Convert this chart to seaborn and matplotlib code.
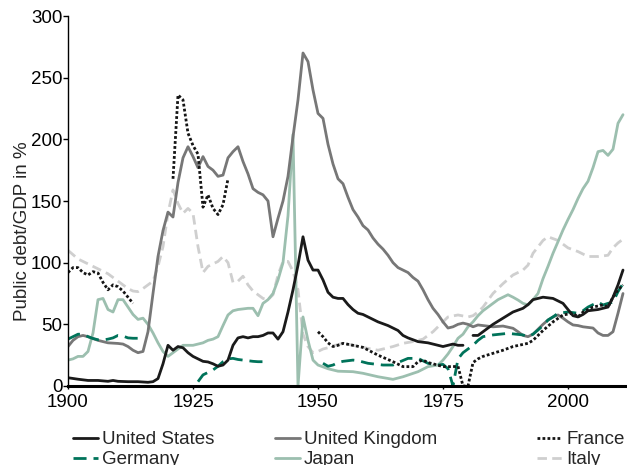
import numpy as np
import pandas as pd
import matplotlib
matplotlib.use("Agg")
import matplotlib.pyplot as plt
from matplotlib.lines import Line2D
import seaborn as sns

nan = np.nan

# Public debt / GDP in % (nan = gap in series)
US_YEARS = [1900, 1902, 1904, 1906, 1908, 1909, 1910, 1912, 1914, 1916,
            1917, 1918, 1919, 1920, 1921, 1922, 1923, 1924, 1925, 1926,
            1927, 1928, 1929, 1930, 1931, 1932, 1933, 1934, 1935, 1936,
            1937, 1938, 1939, 1940, 1941, 1942, 1943, 1944, 1945, 1946,
            1947, 1948, 1949, 1950, 1951, 1952, 1953, 1954, 1955, 1956,
            1957, 1958, 1959, 1960, 1962, 1964, 1966, 1967, 1968, 1970,
            1972, 1974, 1975, 1976, 1977, 1978, 1979, 1980, 1981, 1982,
            1983, 1984, 1985, 1987, 1989, 1991, 1992, 1993, 1995, 1997,
            1999, 2000, 2001, 2002, 2003, 2004, 2006, 2008, 2009, 2010,
            2011]
US_DEBT = [6.7, 5.5, 4.5, 4.5, 3.8, 4.5, 3.8, 3.5, 3.5, 3,
           3.5, 6, 18, 33, 29, 32, 31, 27, 24, 22,
           20, 19.5, 18, 16, 17, 21, 33, 39, 40, 39,
           40, 40, 41, 43, 43, 38, 44, 60, 78, 98,
           121, 102, 94, 94, 86, 76, 72, 71, 71, 66,
           62, 59, 58, 56, 52, 49, 45, 41, 39, 36,
           35, 33, 32, 33, 34, 33, 33, nan, 41, 41,
           44, 47, 50, 55, 60, 63, 66, 70, 72, 71,
           67, 62, 57, 56, 58, 61, 62, 64, 72, 82,
           94]

UK_YEARS = [1900, 1901, 1902, 1903, 1904, 1906, 1908, 1910, 1911, 1912,
            1913, 1914, 1915, 1916, 1917, 1918, 1919, 1920, 1921, 1922,
            1923, 1924, 1925, 1926, 1927, 1928, 1929, 1930, 1931, 1932,
            1933, 1934, 1935, 1936, 1937, 1938, 1939, 1940, 1941, 1942,
            1943, 1944, 1945, 1946, 1947, 1948, 1949, 1950, 1951, 1952,
            1953, 1954, 1955, 1956, 1957, 1958, 1959, 1960, 1961, 1962,
            1963, 1964, 1965, 1966, 1967, 1968, 1969, 1970, 1971, 1972,
            1973, 1974, 1975, 1976, 1977, 1978, 1979, 1980, 1981, 1982,
            1983, 1985, 1987, 1989, 1990, 1991, 1992, 1993, 1994, 1995,
            1996, 1997, 1998, 1999, 2000, 2001, 2002, 2003, 2004, 2005,
            2006, 2007, 2008, 2009, 2010, 2011]
UK_DEBT = [32, 37, 40, 41, 40, 37, 35, 34.5, 34, 32,
           29, 27, 28, 44, 75, 105, 126, 141, 137, 165,
           185, 194, 186, 177, 186, 178, 175, 170, 171, 185,
           190, 194, 182, 172, 160, 157, 155, 150, 121, 136,
           150, 170, 202, 232, 270, 263, 240, 221, 217, 196,
           180, 168, 164, 153, 143, 137, 130, 126.5, 120, 115,
           111, 106, 100, 96, 94, 92, 88, 85, 78, 70,
           63, 58, 52, 47, 48, 50, 51, 50, 48, 49.5,
           49, 48, 48.6, 46.8, 44, 41, 40, 42, 46, 50,
           53.5, 56, 57.6, 55, 52, 49.5, 49, 48, 47.5, 47,
           43, 41, 41, 44, 59, 75]

FR_YEARS = [1900, 1901, 1902, 1903, 1904, 1905, 1906, 1907, 1908, 1909,
            1910, 1911, 1912, 1913, 1914,
            1921, 1922, 1923, 1924, 1925, 1926, 1927, 1928, 1929, 1930,
            1931, 1932, 1933,
            1950, 1951, 1952, 1953, 1954, 1955, 1957, 1959, 1962, 1965,
            1967, 1969, 1970, 1971, 1972, 1973, 1975, 1977, 1978, 1979,
            1980, 1981, 1982, 1983, 1985, 1987, 1989, 1992, 1993, 1994,
            1995, 1997, 1999, 2001, 2002, 2003, 2005, 2007, 2008, 2009,
            2010, 2011]
FR_DEBT = [92, 96, 96, 92, 90, 92.7, 91.6, 84, 78, 82,
           80.5, 77, 72, 67, nan,
           168, 236, 232, 205, 195, 188, 145, 155, 144, 139,
           147, 168, nan,
           44, 40, 35, 32, 33, 34.6, 33, 31.3, 25, 19.7,
           15.7, 15.7, 19.7, 21, 19, 18, 15.7, 15.7, 16, 0,
           0, 19, 22, 24, 26.5, 29, 32, 34.6, 37, 41,
           45, 52, 57.6, 59, 56, 60, 64, 65.7, 64, 72,
           78, 82]

DE_YEARS = [1900, 1901, 1902, 1903, 1904, 1905, 1906, 1907, 1908, 1909,
            1910, 1911, 1912, 1913, 1914, 1915,
            1926, 1927, 1928, 1929, 1930, 1931, 1932, 1933, 1934, 1935,
            1936, 1937, 1938, 1939, 1940,
            1951, 1952, 1953, 1954, 1955, 1957, 1958, 1960, 1963, 1965,
            1966, 1968, 1970, 1972, 1974, 1975, 1976, 1977, 1978, 1979,
            1980, 1981, 1982, 1983, 1985, 1988, 1991, 1992, 1993, 1994,
            1995, 1996, 1997, 1998, 2000, 2002, 2003, 2004, 2006, 2007,
            2008, 2009, 2010, 2011]
DE_DEBT = [38, 40, 42, 42, 40, 38.5, 37.5, 37.3, 38, 39,
           41, 40.5, 39, 38.7, 38.7, nan,
           3.5, 9, 11, 13, 16, 19.7, 22, 22.4, 21.5, 21,
           20.5, 20, 19.7, 19.7, nan,
           18.4, 16, 17, 19, 20, 21, 20.5, 18.4, 17, 17,
           19, 22.4, 22.4, 18.4, 17, 17.5, 14, 0, 22, 27,
           30, 33, 37, 40, 41.4, 42.7, 41.4, 40, 42, 45.4,
           49, 53.5, 56, 59, 60, 59, 61, 64, 68, 65.7,
           67, 68, 76.5, 83]

JP_YEARS = [1900, 1901, 1902, 1903, 1904, 1905, 1906, 1907, 1908, 1909,
            1910, 1911, 1912, 1913, 1914, 1915, 1916, 1917, 1918, 1919,
            1920, 1921, 1922, 1923, 1924, 1925, 1926, 1927, 1928, 1929,
            1930, 1931, 1932, 1933, 1934, 1935, 1936, 1937, 1938, 1939,
            1940, 1941, 1942, 1943, 1944, 1945, 1946, 1947, 1948, 1949,
            1950, 1951, 1952, 1953, 1954, 1957, 1959, 1962, 1965, 1967,
            1970, 1972, 1974, 1975, 1976, 1977, 1978, 1979, 1980, 1981,
            1982, 1983, 1984, 1985, 1986, 1987, 1988, 1989, 1990, 1991,
            1992, 1993, 1994, 1995, 1996, 1997, 1998, 1999, 2000, 2001,
            2002, 2003, 2004, 2005, 2006, 2007, 2008, 2009, 2010, 2011]
JP_DEBT = [21, 22, 24, 24, 28, 43, 70, 71, 62, 60,
           70, 70, 64, 58, 54, 55, 50, 43, 35, 28,
           24, 27, 30, 33, 33, 33, 34, 35, 37, 38,
           40, 49, 57.6, 61, 62, 62.5, 63, 63, 57, 67,
           70, 75, 86, 100, 138, 204, 0, 56, 37, 21,
           17, 15.5, 14, 13, 12, 11.6, 10.3, 7.5, 5.4, 7.5,
           11.6, 15.7, 17, 21, 26, 32, 38.7, 42, 48, 52,
           57, 61, 64, 67, 70, 72, 74, 72, 69.7, 67,
           65.7, 70, 75, 87, 97, 107.6, 117, 126.5, 135, 143,
           152, 160, 166, 177, 190, 191, 187, 192, 213, 220]

IT_YEARS = [1900, 1902, 1905, 1908, 1910, 1912, 1913, 1914, 1915, 1916,
            1917, 1918, 1919, 1920, 1921, 1922, 1923, 1924, 1925, 1926,
            1927, 1928, 1929, 1930, 1931, 1932, 1933, 1934, 1935, 1936,
            1937, 1938, 1939, 1940, 1941, 1942, 1943, 1944, 1945, 1946,
            1947, 1948, 1949, 1950, 1951, 1952, 1953, 1955, 1957, 1960,
            1962, 1965, 1967, 1969, 1971, 1973, 1975, 1976, 1978, 1980,
            1981, 1982, 1983, 1985, 1987, 1989, 1991, 1992, 1993, 1995,
            1996, 1998, 2000, 2002, 2004, 2006, 2008, 2009, 2010, 2011]
IT_DEBT = [110, 103, 97, 91, 85, 79, 77, 76.5, 79, 82,
           85, 97, 113, 140, 159, 148, 140, 144, 140, 113,
           92, 97, 99, 101, 105, 100, 84, 85, 89, 82,
           77, 74, 71, 70, 74, 90, 101, 101, 93, 78,
           42, 32, 27, 28, 30, 31, 32.5, 34.6, 33, 30.5,
           29, 32, 34.6, 36, 38, 44, 52, 56, 57.6, 56,
           57, 60, 64, 75, 83, 90, 94, 98, 107.6, 118,
           121, 118, 112, 109, 105, 105, 106, 112, 116, 119]

SERIES = {
    "United States": (US_YEARS, US_DEBT),
    "United Kingdom": (UK_YEARS, UK_DEBT),
    "France": (FR_YEARS, FR_DEBT),
    "Germany": (DE_YEARS, DE_DEBT),
    "Japan": (JP_YEARS, JP_DEBT),
    "Italy": (IT_YEARS, IT_DEBT),
}
COLORS = {
    "United States": "#1a1a1a",
    "United Kingdom": "#777777",
    "France": "#151515",
    "Germany": "#00735a",
    "Japan": "#9cbfaf",
    "Italy": "#cfcfcf",
}
DASHES = {
    "United States": "",
    "United Kingdom": "",
    "France": (1, 0.8),
    "Germany": (4.7, 2.5),
    "Japan": "",
    "Italy": (3.4, 1.9),
}
LEGEND_COLUMNS = [["United States", "Germany"],
                  ["United Kingdom", "Japan"],
                  ["France", "Italy"]]

# long-form frame; a new segment starts after every gap
rows = []
for country, (years, debt) in SERIES.items():
    assert len(years) == len(debt), country
    seg = 0
    for yr, v in zip(years, debt):
        if np.isnan(v):
            seg += 1
            continue
        rows.append({"year": yr, "debt": v, "country": country, "segment": seg})
df = pd.DataFrame(rows)

sns.set_style("ticks")
plt.rcParams["font.family"] = ["Liberation Sans", "DejaVu Sans"]
FS = 13.5

fig = plt.figure(figsize=(6.27, 4.65), dpi=100)
ax = fig.add_axes([68 / 627, 1 - 386 / 465, 558 / 627, 370 / 465])

order = ["Italy", "Japan", "United Kingdom", "Germany", "France", "United States"]
sns.lineplot(
    data=df, x="year", y="debt",
    hue="country", style="country", units="segment",
    hue_order=order, style_order=order,
    estimator=None, palette=COLORS, dashes=DASHES,
    linewidth=2.0, legend=False, ax=ax,
)

ax.set_xlim(1900, 2011.6)
ax.set_ylim(0, 300)
ax.set_xticks([1900, 1925, 1950, 1975, 2000])
ax.set_yticks([0, 50, 100, 150, 200, 250, 300])
ax.set_xlabel("")
ax.set_ylabel("Public debt/GDP in %", fontsize=FS)
ax.yaxis.set_label_coords(-0.066, 0.418)

sns.despine(ax=ax)
ax.spines["bottom"].set_linewidth(2.2)
ax.spines["left"].set_linewidth(1.0)
ax.spines["bottom"].set_color("black")
ax.spines["left"].set_color("black")
ax.tick_params(axis="y", length=3.6, width=1.0, pad=0.5, labelsize=FS, colors="black")
ax.tick_params(axis="x", length=2.2, width=1.0, pad=3.8, labelsize=FS, colors="black")

col_x = [73, 275, 537]
for names, x in zip(LEGEND_COLUMNS, col_x):
    handles = [Line2D([], [], color=COLORS[n], lw=2.0, dashes=DASHES[n]) for n in names]
    fig.legend(
        handles, names, loc="upper left",
        bbox_to_anchor=(x / 627, 1 - 431 / 465),
        frameon=False, borderpad=0, borderaxespad=0,
        handlelength=1.35, handletextpad=0.2, labelspacing=0.16,
        fontsize=FS,
    )

fig.savefig("out.png", dpi=100)
